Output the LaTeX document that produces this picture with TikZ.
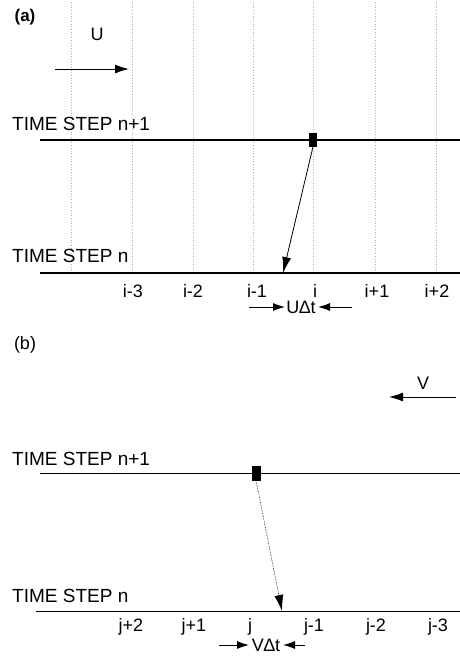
\documentclass[tikz,border=0pt]{standalone}
\usepackage{fontspec}
\setmainfont{Liberation Sans}
\usetikzlibrary{arrows.meta}
\begin{document}
\begin{tikzpicture}[x=1pt,y=-1pt,
  lbl/.style={font=\fontsize{18}{20}\selectfont, inner sep=0pt},
  tslbl/.style={font=\fontsize{19}{21}\selectfont, inner sep=0pt, anchor=west},
  tline/.style={line width=1.4pt},
  grid/.style={gray!60, line width=0.7pt, dotted},
  marker/.style={fill=black, draw=black, minimum width=7pt, minimum height=13pt, inner sep=0pt},
  vel/.style={line width=1pt, -{Latex[length=14pt,width=9pt]}},
  traj/.style={line width=0.8pt, -{Latex[length=16pt,width=9pt]}},
  dist/.style={line width=1pt, -{Latex[length=12pt,width=8pt]}}]
\useasboundingbox (0,0) rectangle (460,659);
% ---------- panel (a)
\node[lbl, font=\bfseries\fontsize{17}{19}\selectfont] (pa) at (25,17) {(a)};
\node[lbl] (U) at (97,34) {U};
\coordinate (ua0) at (55,69);
\coordinate (ua1) at (129,69);
\draw[vel] (ua0) -- (ua1);
\foreach \x/\n in {71/g1,132/g2,193/g3,253/g4,313/g5,375/g6,436/g7}{
  \coordinate (\n t) at (\x,2);
  \coordinate (\n b) at (\x,273);
  \draw[grid] (\n t) -- (\n b);
}
\node[tslbl] (tsa1) at (12,124) {TIME STEP n+1};
\coordinate (la1s) at (40,140); \coordinate (la1e) at (460,140);
\draw[tline] (la1s) -- (la1e);
\node[tslbl] (tsa0) at (12,256) {TIME STEP n};
\coordinate (la0s) at (40,273); \coordinate (la0e) at (460,273);
\draw[tline] (la0s) -- (la0e);
\node[marker] (sqa) at (313,140) {};
\coordinate (enda) at (283,273);
\draw[traj] (sqa.south) -- (enda);
\foreach \x/\t/\n in {133/i-3/ia,193/i-2/ib,257/i-1/ic,315/i/id,377/i+1/ie,437/i+2/if}{
  \node[lbl] (\n) at (\x,291) {\t};
}
\node[lbl] (uda) at (301,307) {U∆t};
\coordinate (da0) at (249,307); \coordinate (da1) at (285,307);
\coordinate (da2) at (352,307); \coordinate (da3) at (318,307);
\draw[dist] (da0) -- (da1);
\draw[dist] (da2) -- (da3);
% ---------- panel (b)
\node[lbl] (pb) at (25,345) {(b)};
\node[lbl] (V) at (423,383) {V};
\coordinate (va0) at (456,397);
\coordinate (va1) at (389,397);
\draw[vel] (va0) -- (va1);
\node[tslbl] (tsb1) at (12,459) {TIME STEP n+1};
\coordinate (lb1s) at (40,473); \coordinate (lb1e) at (460,473);
\draw[line width=1pt] (lb1s) -- (lb1e);
\node[tslbl] (tsb0) at (12,596) {TIME STEP n};
\coordinate (lb0s) at (36,611); \coordinate (lb0e) at (460,611);
\draw[line width=1pt] (lb0s) -- (lb0e);
\node[marker, minimum width=8pt, minimum height=14pt] (sqb) at (256,473) {};
\coordinate (endb) at (282,611);
\draw[traj, line width=0.6pt, densely dotted] (sqb.south) -- (endb);
\foreach \x/\t/\n in {131/j+2/ja,194/j+1/jb,250/j/jc,314/j-1/jd,376/j-2/je,438/j-3/jf}{
  \node[lbl] (\n) at (\x,627) {\t};
}
\node[lbl] (vdb) at (266,645) {V∆t};
\coordinate (db0) at (219,645); \coordinate (db1) at (249,645);
\coordinate (db2) at (305,645); \coordinate (db3) at (283,645);
\draw[dist] (db0) -- (db1);
\draw[dist] (db2) -- (db3);
\end{tikzpicture}
\end{document}
